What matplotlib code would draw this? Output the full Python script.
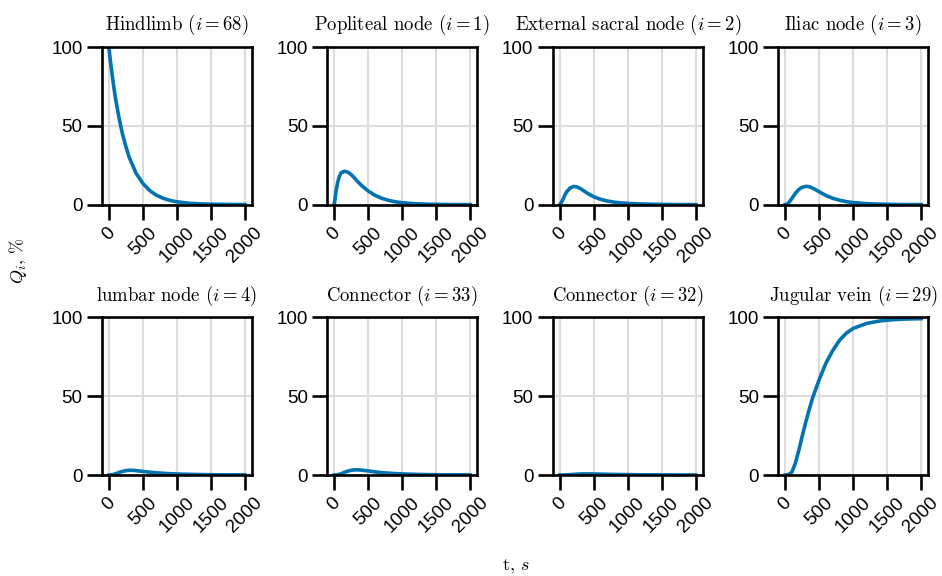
import matplotlib
matplotlib.use("Agg")
import matplotlib.pyplot as plt

# time points (s) and the fraction Q_i (%)
t = [0, 25, 50, 75, 100, 150, 200, 250, 300, 350, 400, 500, 600, 700, 800,
     900, 1000, 1200, 1400, 1600, 1800, 2000]

hindlimb = [100, 90.5, 82, 74, 67, 55, 45, 37, 30, 25, 20, 13.5, 9, 6, 4,
            2.7, 1.8, 0.8, 0.4, 0.2, 0.1, 0.05]
popliteal = [0, 8.4, 14.1, 17.9, 20.2, 21.2, 20.6, 19.0, 16.8, 14.4, 12.2, 8.6,
             5.9, 4.0, 2.7, 1.8, 1.2, 0.55, 0.25, 0.11, 0.05, 0.02]
ext_sacral = [0, 1.5, 3.5, 6, 8, 10.5, 11.5, 11.3, 10.3, 8.9, 7.4, 5.0,
              3.4, 2.3, 1.6, 1.1, 0.8, 0.4, 0.2, 0.1, 0.05, 0.02]
iliac = [0, 0.3, 1.2, 2.5, 4, 7.2, 9.6, 11, 11.6, 11.4, 10.6, 8.2,
         5.8, 4.0, 2.8, 1.9, 1.3, 0.6, 0.3, 0.13, 0.06, 0.03]
lumbar = [0, 0.05, 0.2, 0.45, 0.8, 1.6, 2.3, 2.8, 3.0, 3.0, 2.8, 2.3,
          1.8, 1.4, 1.1, 0.85, 0.65, 0.4, 0.25, 0.15, 0.1, 0.06]
connector33 = [0, 0.05, 0.2, 0.45, 0.8, 1.7, 2.5, 3.0, 3.3, 3.3, 3.1, 2.6,
               2.0, 1.5, 1.2, 0.9, 0.7, 0.4, 0.25, 0.15, 0.1, 0.06]
connector32 = [0, 0, 0.02, 0.05, 0.1, 0.25, 0.4, 0.55, 0.65, 0.7, 0.7, 0.65,
               0.55, 0.45, 0.38, 0.3, 0.25, 0.15, 0.1, 0.06, 0.04, 0.02]
jugular = [0, 0.1, 0.4, 1.0, 2, 7.5, 15.5, 24.5, 33, 41, 48.5, 60.5,
           71, 79, 85.5, 90, 93, 96.2, 97.8, 98.6, 99.0, 99.2]

titles = ["Hindlimb ($i=68$)", "Popliteal node ($i=1$)",
          "External sacral node ($i=2$)", "Iliac node ($i=3$)",
          "lumbar node ($i=4$)", "Connector ($i=33$)",
          "Connector ($i=32$)", "Jugular vein ($i=29$)"]
series = [hindlimb, popliteal, ext_sacral, iliac,
          lumbar, connector33, connector32, jugular]

plt.rcParams["font.family"] = ["Liberation Sans", "DejaVu Sans"]
plt.rcParams["mathtext.fontset"] = "cm"
plt.rcParams["axes.linewidth"] = 1.9

fig, axes = plt.subplots(2, 4, figsize=(9.42, 5.76), dpi=100)
fig.subplots_adjust(left=0.1083, right=0.9851, top=0.9184, bottom=0.1753,
                    wspace=0.507, hspace=0.715)

for ax, title, y in zip(axes.flat, titles, series):
    ax.plot(t, y, color="#0173b2", lw=2.6)
    ax.set_ylim(0, 100)
    ax.set_xticks([0, 500, 1000, 1500, 2000])
    ax.set_yticks([0, 50, 100])
    ax.grid(True, color="#dcdcdc", lw=1.5)
    ax.set_axisbelow(True)
    ax.tick_params(length=10.5, width=1.9, labelsize=13.5, pad=3.5)
    for lab in ax.get_xticklabels():
        lab.set_rotation(45)
        lab.set_ha("center")
    ax.set_title(title, fontsize=13.5, family="cmr10", pad=12)

fig.text(0.019, 0.547, r"$Q_i$, %", rotation=90, ha="center", va="center",
         fontsize=13, family="cmr10")
fig.text(0.547, 0.017, r"t, $s$", ha="center", va="center",
         fontsize=13, family="cmr10")

fig.savefig("out.png", dpi=100)
